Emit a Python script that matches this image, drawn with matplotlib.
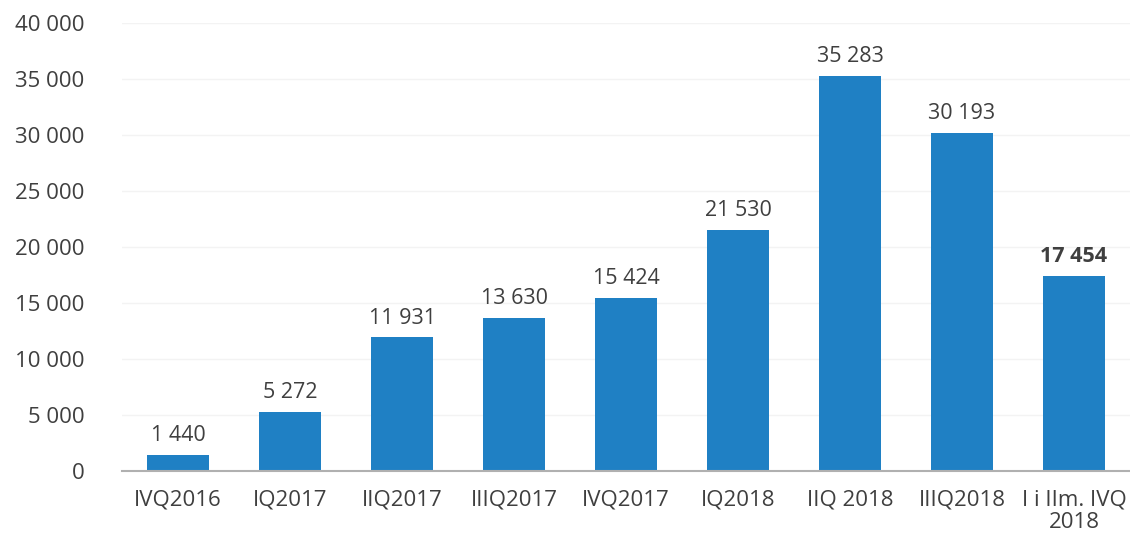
import matplotlib
matplotlib.use("Agg")
import matplotlib.pyplot as plt

categories = ["IVQ2016", "IQ2017", "IIQ2017", "IIIQ2017", "IVQ2017", "IQ2018", "IIQ 2018", "IIIQ2018", "I i IIm. IVQ\n2018"]
values = [1440, 5272, 11931, 13630, 15424, 21530, 35283, 30193, 17454]
yticks = [0, 5000, 10000, 15000, 20000, 25000, 30000, 35000, 40000]

def fmt(v):
    return f"{v:,}".replace(",", " ")

plt.rcParams['font.family'] = ['Open Sans', 'DejaVu Sans']
txt = '#3f3f3f'
fig = plt.figure(figsize=(11.3, 5.36), dpi=100)
ax = fig.add_axes([0.108, 0.121, 0.892, 0.836])
x = range(len(categories))
ax.bar(x, values, width=0.55, color='#1f80c4', zorder=2)
for i, v in enumerate(values):
    ax.text(i, v + 800, fmt(v), ha='center', va='bottom', fontsize=15.5, color=txt,
            fontweight='bold' if i == len(values) - 1 else 'normal')
ax.set_xlim(-0.5, len(categories) - 0.5)
ax.set_ylim(0, 40000)
ax.set_yticks(yticks)
ax.set_yticklabels([fmt(t) for t in yticks], fontsize=16, color=txt)
ax.set_xticks(list(x))
ax.set_xticklabels(categories, fontsize=16, color=txt, linespacing=1.1)
ax.yaxis.grid(True, color='#f3f3f3', linewidth=1, zorder=0)
for s in ['top', 'right', 'left']:
    ax.spines[s].set_visible(False)
ax.spines['bottom'].set_color('#b0b0b0')
ax.spines['bottom'].set_linewidth(1.5)
ax.tick_params(axis='both', length=0)
ax.tick_params(axis='x', pad=13)
ax.tick_params(axis='y', pad=27)
fig.savefig('out.png', dpi=100)
